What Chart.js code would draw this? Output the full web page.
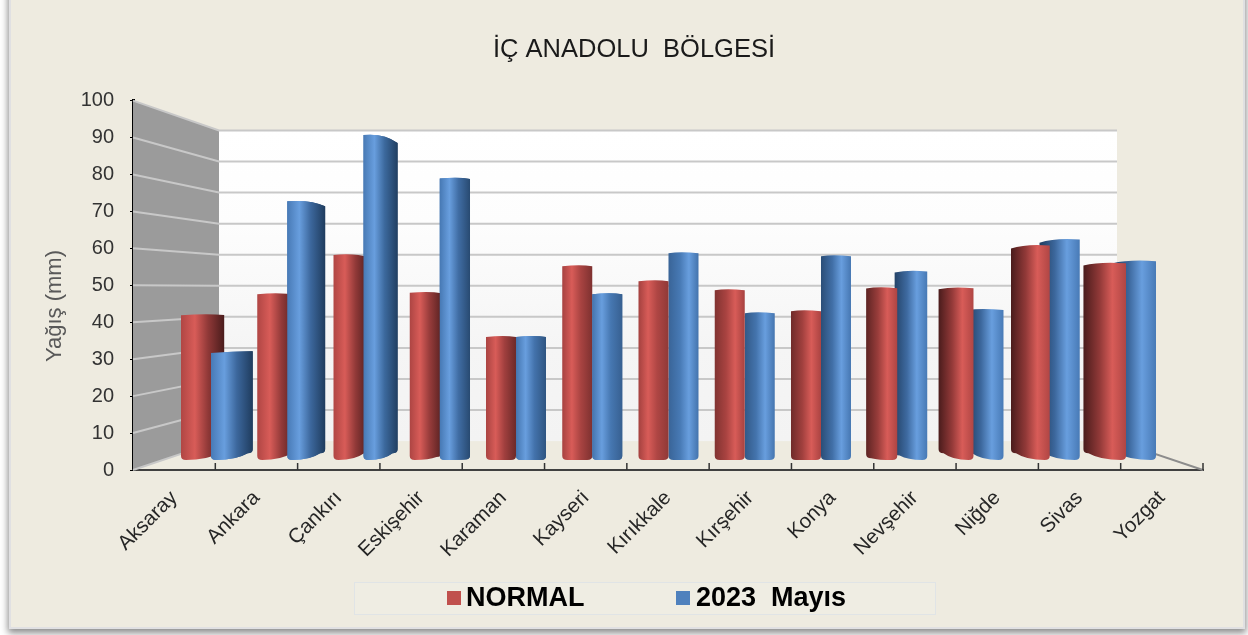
<!DOCTYPE html>
<html>
<head>
<meta charset="utf-8">
<title>İç Anadolu Bölgesi</title>
<style>
  html, body { margin: 0; padding: 0; width: 1248px; height: 635px; overflow: hidden; background: #fff; }
  #panel { position: absolute; left: 9px; top: -10px; width: 1232px; height: 635px; background: #eeebe0; border: 2px solid #e0e0e2; box-shadow: 0 3px 7px 1px #8a8a8a; }
  #grafico { position: absolute; left: 0; top: 0; }
</style>
</head>
<body>
<div id="panel"></div>
<canvas id="grafico" width="1248" height="635"></canvas>
<script src="https://cdn.jsdelivr.net/npm/chart.js@4/dist/chart.umd.min.js"></script>
<script>
const categories = ["Aksaray", "Ankara", "Çankırı", "Eskişehir", "Karaman", "Kayseri", "Kırıkkale", "Kırşehir", "Konya", "Nevşehir", "Niğde", "Sivas", "Yozgat"];
const normal = [41.6, 47.6, 58.8, 48.0, 35.4, 55.6, 51.3, 48.7, 42.7, 49.3, 49.3, 61.5, 56.4];
const mayis2023 = [30.8, 74.1, 93.0, 80.6, 35.4, 47.6, 59.3, 42.2, 58.4, 54.1, 43.1, 63.2, 57.0];
const yTicks = [0, 10, 20, 30, 40, 50, 60, 70, 80, 90, 100];

const redShades = { edge: [176, 70, 68], light: [216, 92, 88], dark: [74, 28, 28] };
const blueShades = { edge: [72, 122, 182], light: [104, 158, 222], dark: [31, 60, 94] };
const shadesByColor = { "#c0504d": redShades, "#4f81bd": blueShades };

function mix(a, b, t) {
  const c = a.map((v, i) => Math.round(v + (b[i] - v) * t));
  return `rgb(${c[0]},${c[1]},${c[2]})`;
}

// Cylinder looking bar, keeps the normal bar geometry from the scales
class CylinderBar extends Chart.BarElement {
  draw(ctx) {
    const { x, y, base, width } = this.getProps(["x", "y", "base", "width"], true);
    const shades = shadesByColor[this.options.backgroundColor];
    const off = x - 660;
    const side = off < 0 ? 1 : -1;
    const ext = Math.max(0, (Math.abs(off) - 200) * 0.05);
    const slant = 0.045 * Math.min(1, ext / 4);
    const near = x - side * width / 2;
    const far = x + side * (width / 2 + ext);
    const farTop = y + (310 - y) * slant;
    const farBase = base + (310 - base) * slant;
    const ctrl = near + (far - near) * 0.6;

    // the lit stripe moves with the distance from the middle of the chart
    const strength = Math.min(1, Math.abs(off) / 300);
    const g = ctx.createLinearGradient(near, 0, far, 0);
    g.addColorStop(0, mix(shades.edge, shades.dark, 0.12 * (1 - strength)));
    g.addColorStop(0.32, mix(shades.light, shades.light, 0));
    g.addColorStop(0.62, mix(shades.edge, shades.dark, strength * 0.3));
    g.addColorStop(1, mix(shades.edge, shades.dark, 0.3 + strength * 0.7));

    ctx.save();
    ctx.beginPath();
    ctx.moveTo(near, y + 1);
    ctx.quadraticCurveTo(ctrl, y - 1, far, farTop + 1);
    ctx.lineTo(far, farBase - 4);
    ctx.quadraticCurveTo(far, farBase, far - side * 5, farBase);
    ctx.quadraticCurveTo(ctrl, base, near + side * 5, base);
    ctx.quadraticCurveTo(near, base, near, base - 4);
    ctx.closePath();
    ctx.fillStyle = g;
    ctx.fill();
    ctx.restore();
  }
}
CylinderBar.id = "cylinderBar";
CylinderBar.defaults = Object.assign({}, Chart.BarElement.defaults);

class CylinderController extends Chart.BarController {}
CylinderController.id = "cylinder";
CylinderController.defaults = Object.assign({}, Chart.BarController.defaults, { dataElementType: "cylinderBar" });
CylinderController.overrides = Chart.BarController.overrides;
Chart.register(CylinderBar, CylinderController);

// Back wall, side wall, floor and their grid lines
const paredes = {
  id: "paredes",
  beforeDatasetsDraw(chart) {
    const { ctx, scales } = chart;
    const front = scales.y, back = scales.yw, xs = scales.x;
    const left = xs.left, right = xs.right, inset = 86;
    const bl = left + inset, br = right - inset;
    ctx.save();

    const wall = ctx.createLinearGradient(0, back.getPixelForValue(100), 0, back.getPixelForValue(0));
    wall.addColorStop(0, "#ffffff");
    wall.addColorStop(0.3, "#fdfdfd");
    wall.addColorStop(0.7, "#f5f5f5");
    wall.addColorStop(1, "#f3f3f3");
    ctx.fillStyle = wall;
    ctx.fillRect(bl, back.getPixelForValue(100), br - bl, back.getPixelForValue(0) - back.getPixelForValue(100));

    ctx.fillStyle = "#9b9b9b";
    ctx.beginPath();
    ctx.moveTo(left, front.getPixelForValue(100));
    ctx.lineTo(bl, back.getPixelForValue(100));
    ctx.lineTo(bl, back.getPixelForValue(0));
    ctx.lineTo(left, front.getPixelForValue(0));
    ctx.closePath();
    ctx.fill();

    ctx.strokeStyle = "#c8c8c8";
    ctx.lineWidth = 2;
    yTicks.forEach(v => {
      ctx.beginPath();
      ctx.moveTo(left, front.getPixelForValue(v));
      ctx.lineTo(bl, back.getPixelForValue(v));
      if (v > 0) ctx.lineTo(br, back.getPixelForValue(v));
      ctx.stroke();
    });

    // floor edge on the right
    ctx.strokeStyle = "#8c8c8c";
    ctx.lineWidth = 2;
    ctx.beginPath();
    ctx.moveTo(br, back.getPixelForValue(0));
    ctx.lineTo(right, front.getPixelForValue(0));
    ctx.stroke();
    ctx.restore();
  },
  afterDatasetsDraw(chart) {
    const { ctx, scales } = chart;
    // chart.js paints the first dataset last, so on the left half the blue has to come back on top
    chart.getDatasetMeta(1).data.forEach(el => {
      if (el.x < 660) el.draw(ctx);
    });
    // x axis ticks point inward, on the category edges
    const xs = scales.x, bottom = scales.y.bottom;
    const step = (xs.right - xs.left) / categories.length;
    ctx.save();
    ctx.strokeStyle = "#333";
    ctx.lineWidth = 1.5;
    for (let i = 1; i <= categories.length; i++) {
      ctx.beginPath();
      ctx.moveTo(xs.left + step * i, bottom);
      ctx.lineTo(xs.left + step * i, bottom - 7);
      ctx.stroke();
    }
    ctx.restore();
  }
};

// y title sits lower than the axis centre, legend lives in its own box
const rotulos = {
  id: "rotulos",
  afterDraw(chart) {
    const { ctx } = chart;
    ctx.save();
    ctx.translate(55, 306);
    ctx.rotate(-Math.PI / 2);
    ctx.font = "22px 'Liberation Sans'";
    ctx.fillStyle = "#595959";
    ctx.textAlign = "center";
    ctx.textBaseline = "middle";
    ctx.fillText("Yağış (mm)", 0, 0);
    ctx.restore();

    ctx.save();
    ctx.fillStyle = "#efede3";
    ctx.strokeStyle = "#e0e4e6";
    ctx.lineWidth = 1;
    ctx.fillRect(354.5, 582.5, 581, 32);
    ctx.strokeRect(354.5, 582.5, 581, 32);
    ctx.font = "bold 27px 'Liberation Sans'";
    ctx.textBaseline = "middle";
    [[447, 466], [676, 696]].forEach((p, i) => {
      const ds = chart.data.datasets[i];
      ctx.fillStyle = ds.backgroundColor;
      ctx.fillRect(p[0], 591, 14, 14);
      ctx.fillStyle = "#000";
      ctx.fillText(ds.label, p[1], 598.5);
    });
    ctx.restore();
  }
};

new Chart(document.getElementById("grafico"), {
  type: "cylinder",
  data: {
    labels: categories,
    datasets: [
      { label: "NORMAL", data: normal.map((v, i) => ({ x: i, y: v })), backgroundColor: "#c0504d", xAxisID: "xb", yAxisID: "yb", barThickness: 30 },
      { label: "2023  Mayıs", data: mayis2023.map((v, i) => ({ x: i, y: v })), backgroundColor: "#4f81bd", xAxisID: "xb", yAxisID: "yb", barThickness: 30 }
    ]
  },
  options: {
    responsive: false,
    animation: false,
    events: [],
    layout: { padding: { left: 65, right: 45, top: 0, bottom: 65 } },
    plugins: {
      legend: { display: false },
      tooltip: { enabled: false },
      title: {
        display: true,
        text: "İÇ ANADOLU  BÖLGESİ",
        color: "#1a1a1a",
        font: { family: "'Liberation Sans'", size: 25.5, weight: "normal" },
        padding: { top: 35, bottom: 35 }
      }
    },
    scales: {
      x: {
        type: "category",
        offset: true,
        grid: { display: false },
        border: { color: "#404040", width: 2 },
        afterFit(s) { s.height = 100; },
        ticks: { color: "#262626", font: { family: "'Liberation Sans'", size: 20.5 }, minRotation: 45, maxRotation: 45, autoSkip: false, padding: 8 }
      },
      y: {
        type: "linear",
        min: 0,
        max: 100,
        afterFit(s) { s.width = 68; },
        grid: { drawOnChartArea: false, tickLength: 3, color: "#000" },
        border: { color: "#000", width: 3 },
        ticks: { stepSize: 10, color: "#333", font: { family: "'Liberation Sans'", size: 20 }, padding: 16 }
      },
      // bars stand part way into the depth of the floor
      xb: { axis: "x", type: "linear", display: false, offset: false, min: -1.023, max: 13.01 },
      yb: { axis: "y", type: "linear", display: false, min: -2.85, max: 102.56 },
      // back wall
      yw: { axis: "y", type: "linear", display: false, min: -9.3, max: 109.6 }
    }
  },
  plugins: [paredes, rotulos]
});
</script>
</body>
</html>
